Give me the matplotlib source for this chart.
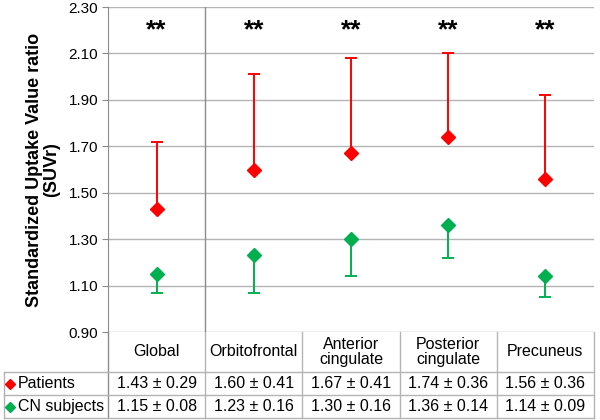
import matplotlib
matplotlib.use('Agg')
import matplotlib.pyplot as plt
import matplotlib.transforms as mtransforms

# regions and their group values (mean, sd)
regions = ['Global', 'Orbitofrontal', 'Anterior\ncingulate', 'Posterior\ncingulate', 'Precuneus']
patients_mean = [1.43, 1.60, 1.67, 1.74, 1.56]
patients_sd = [0.29, 0.41, 0.41, 0.36, 0.36]
cn_mean = [1.15, 1.23, 1.30, 1.36, 1.14]
cn_sd = [0.08, 0.16, 0.16, 0.14, 0.09]
yticks = [0.90, 1.10, 1.30, 1.50, 1.70, 1.90, 2.10, 2.30]
stars = ['**', '**', '**', '**', '**']
row_names = ['Patients', 'CN subjects']

RED = '#FF0000'
GREEN = '#00B050'
GRID = '#B4B4B4'
LINE = '#8C8C8C'

plt.rcParams['font.family'] = ['Liberation Sans', 'DejaVu Sans']

fig = plt.figure(figsize=(6, 4.2), dpi=100)
ax = fig.add_axes([0.18, 0.2095, 0.81, 0.7738])

x = list(range(len(regions)))
zeros = [0] * len(regions)

# patients: upper error bar only
ax.errorbar(x, patients_mean, yerr=[zeros, patients_sd], fmt='none',
            ecolor=RED, elinewidth=1.4, capsize=4, capthick=1.4, zorder=3)
ax.plot(x, patients_mean, 'D', color=RED, markersize=7.5, zorder=4, linestyle='none')

# CN subjects: lower error bar only
ax.errorbar(x, cn_mean, yerr=[cn_sd, zeros], fmt='none',
            ecolor=GREEN, elinewidth=1.4, capsize=4, capthick=1.4, zorder=3)
ax.plot(x, cn_mean, 'D', color=GREEN, markersize=7.5, zorder=4, linestyle='none')

for xi, s in zip(x, stars):
    ax.text(xi, 2.20, s, ha='center', va='center', fontsize=19, fontweight='bold')

ax.set_xlim(-0.5, len(regions) - 0.5)
ax.set_ylim(0.90, 2.30)
ax.set_yticks(yticks)
ax.set_yticklabels(['%.2f' % t for t in yticks], fontsize=11)
ax.set_xticks([])
for t in yticks:
    ax.axhline(t, color=GRID, linewidth=1, zorder=1)
ax.axvline(0.5, color=LINE, linewidth=1, zorder=1)

for side in ['top', 'right', 'bottom']:
    ax.spines[side].set_visible(False)
ax.spines['left'].set_color(LINE)
ax.tick_params(axis='y', length=4, color=LINE, pad=3)

ax.set_ylabel('Standardized Uptake Value ratio\n(SUVr)', fontsize=13,
              fontweight='bold', labelpad=6, linespacing=1.0)

# data table under the chart
trans = mtransforms.blended_transform_factory(ax.transData, ax.transAxes)
left = -1.57
right = len(regions) - 0.5
head_bot = -0.123
row1_bot = -0.194
row2_bot = -0.265
kw = dict(transform=trans, clip_on=False, color=GRID, linewidth=1)

ax.plot([-0.5, -0.5], [0, row2_bot], transform=trans, clip_on=False, color=LINE, linewidth=1)
for i in range(1, len(regions) + 1):
    ax.plot([i - 0.5, i - 0.5], [0, row2_bot], **kw)
for yb in [head_bot, row1_bot, row2_bot]:
    ax.plot([left, right], [yb, yb], **kw)
ax.plot([left, left], [head_bot, row2_bot], **kw)

for xi, name in zip(x, regions):
    ax.text(xi, (0 + head_bot) / 2, name, transform=trans, ha='center', va='center',
            fontsize=11.5, linespacing=1.0)

row_y = [(head_bot + row1_bot) / 2, (row1_bot + row2_bot) / 2]
row_colors = [RED, GREEN]
row_vals = [(patients_mean, patients_sd), (cn_mean, cn_sd)]
for ry, name, col, (m, s) in zip(row_y, row_names, row_colors, row_vals):
    ax.plot([-1.505], [ry], 'D', color=col, markersize=5, transform=trans, clip_on=False)
    ax.text(-1.43, ry, name, transform=trans, ha='left', va='center', fontsize=11.5)
    for xi, mi, si in zip(x, m, s):
        ax.text(xi, ry, '%.2f \u00b1 %.2f' % (mi, si), transform=trans,
                ha='center', va='center', fontsize=11.5)

fig.savefig('out.png', dpi=100)
